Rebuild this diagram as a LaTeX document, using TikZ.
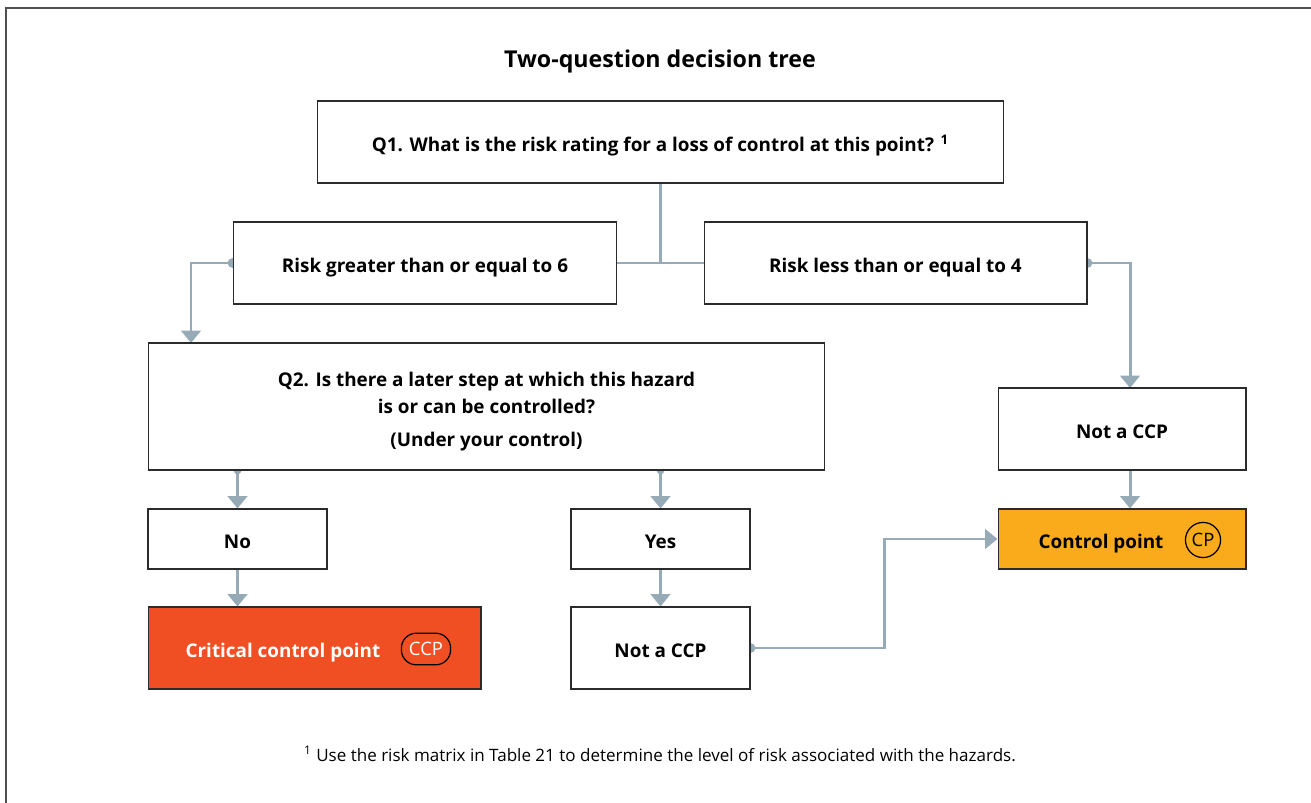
\documentclass[tikz,border=0pt]{standalone}
\usepackage{fontspec}
\setmainfont{Open Sans}
\usetikzlibrary{arrows.meta,backgrounds}

\definecolor{linkgrey}{HTML}{97ABB7}
\definecolor{boxline}{HTML}{2B2B2B}
\definecolor{ccpred}{HTML}{F04E23}
\definecolor{cporange}{HTML}{F9AB1C}
\definecolor{framegrey}{HTML}{505050}

\begin{document}
\begin{tikzpicture}[x=0.02cm,y=-0.02cm,
	box/.style={rectangle,draw=boxline,line width=0.6pt,fill=white,align=center,inner sep=0pt,font=\fontsize{10.75}{13}\selectfont\bfseries,execute at begin node={\rule[-0.25em]{0pt}{1.55em}}},
	link/.style={draw=linkgrey,line width=1.7pt},
	tip/.style={-{Triangle[width=11pt,length=7pt]}}]

	\useasboundingbox (0,0) rectangle (1311,803);
	\draw[framegrey,line width=0.9pt] (6,803) -- (6,8) -- (1311,8);

	%title
	\node[font=\fontsize{13.2}{15}\selectfont\bfseries] (title) at (660,61) {Two-question decision tree};

	%nodes
	\node[box, minimum width=13.74cm, minimum height=1.64cm] (Q1) at (660.5,142) {Q1. What is the risk rating for a loss of control at this point? \textsuperscript{1}};
	\node[box, minimum width=7.68cm, minimum height=1.64cm] (RiskHigh) at (425,263) {Risk greater than or equal to 6};
	\node[box, minimum width=7.66cm, minimum height=1.64cm] (RiskLow) at (895.5,263) {Risk less than or equal to 4};
	\node[box, minimum width=13.54cm, minimum height=2.54cm] (Q2) at (486.5,406.5) {\rule{0pt}{14pt}Q2. Is there a later step at which this hazard \\[2.5pt] is or can be controlled? \\[6pt] (Under your control)};
	\node[box, minimum width=4.96cm, minimum height=1.64cm] (NotCCPright) at (1122,429) {Not a CCP};
	\node[box, fill=cporange, minimum width=4.96cm, minimum height=1.2cm] (CP) at (1122,539) {};
	\node[box, minimum width=3.58cm, minimum height=1.2cm] (No) at (237.5,539) {No};
	\node[box, minimum width=3.58cm, minimum height=1.2cm] (Yes) at (660.5,539) {Yes};
	\node[box, fill=ccpred, minimum width=6.66cm, minimum height=1.64cm] (CCP) at (314.5,648) {};
	\node[box, minimum width=3.58cm, minimum height=1.64cm] (NotCCPleft) at (660.5,648) {Not a CCP};

	%labels and badges inside the coloured boxes
	\node[font=\fontsize{10.75}{13}\selectfont\bfseries, text=white] (CCPtext) at (283,653) {Critical control point};
	\node[draw=black, line width=0.7pt, rounded corners=8.5pt, minimum width=28pt, minimum height=18pt, inner sep=1pt, text=white, font=\fontsize{10.5}{12}\selectfont] (CCPbadge) at (426,649) {CCP};
	\node[font=\fontsize{10.75}{13}\selectfont\bfseries] (CPtext) at (1101,544) {Control point};
	\node[circle, draw=black, line width=0.7pt, minimum size=20pt, inner sep=0pt, font=\fontsize{10.5}{12}\selectfont] (CPbadge) at (1203,540) {CP};

	%footnote
	\node[font=\fontsize{9.7}{12}\selectfont] (note) at (660,754) {\textsuperscript{1} Use the risk matrix in Table 21 to determine the level of risk associated with the hazards.};

	%connector end points
	\coordinate (Q2in) at (191,343);
	\coordinate (NotCCPin) at (1130,388);
	\coordinate (bend) at (884,648);

	%connectors sit behind the boxes
	\begin{scope}[on background layer]
		%edges off Q1
		\draw[link] (Q1.south) |- (RiskHigh.east);
		\draw[link] (Q1.south) |- (RiskLow.west);
		%edges off the risk ratings
		\draw[link,tip] (RiskHigh.west) -| (Q2in);
		\fill[linkgrey] (RiskHigh.west) circle (2.8pt);
		\draw[link,tip] (RiskLow.east) -| (NotCCPin);
		\fill[linkgrey] (RiskLow.east) circle (2.8pt);
		\draw[link,tip] (NotCCPright.south -| NotCCPin) -- (CP.north -| NotCCPin);
		%edges off Q2
		\draw[link,tip] (Q2.south -| No.north) -- (No.north);
		\fill[linkgrey] (Q2.south -| No.north) circle (2.2pt);
		\draw[link,tip] (Q2.south -| Yes.north) -- (Yes.north);
		\fill[linkgrey] (Q2.south -| Yes.north) circle (2.2pt);
		\draw[link,tip] (No.south) -- (CCP.north -| No.south);
		\draw[link,tip] (Yes.south) -- (NotCCPleft.north);
		%edge off the second Not a CCP
		\draw[link,tip] (NotCCPleft.east) -- (bend) |- (CP.west);
		\fill[linkgrey] (NotCCPleft.east) circle (2.8pt);
	\end{scope}

\end{tikzpicture}
\end{document}
